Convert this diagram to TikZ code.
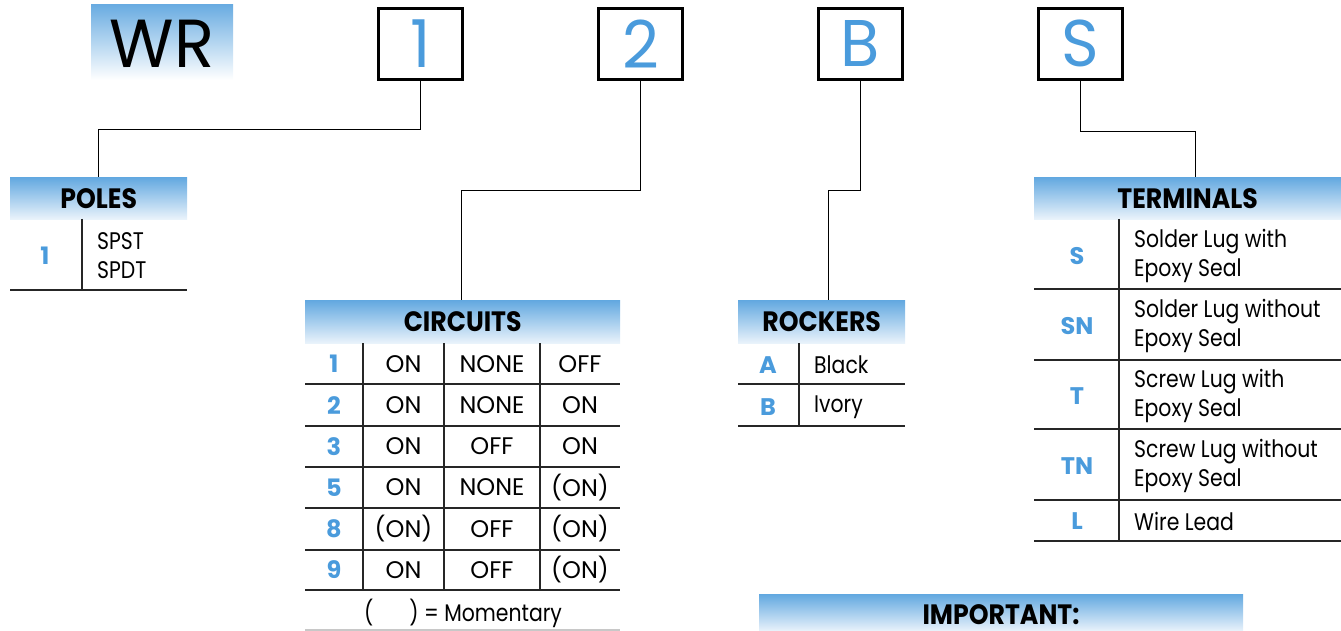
\documentclass[tikz,border=0pt]{standalone}
\usepackage{fontspec}
\setmainfont{Poppins}[FakeStretch=0.85]
\newfontfamily\capfont{Poppins}[FakeStretch=1.0]
\newfontfamily\hdrfont{Poppins}[FakeStretch=0.9]
\newfontfamily\bigfont{Poppins}[FakeStretch=0.97]
\definecolor{hblue}{RGB}{98,168,224}
\definecolor{hlight}{RGB}{234,243,251}
\definecolor{codeblue}{RGB}{74,155,220}
\definecolor{lgray}{RGB}{200,200,200}
\tikzset{
  hdr/.style={anchor=north west, top color=hblue, bottom color=hlight, draw=none, inner sep=0pt,
     font=\hdrfont\fontsize{28}{30}\selectfont\bfseries},
  hdrtext/.style={inner sep=0pt, font=\hdrfont\fontsize{28}{30}\selectfont\bfseries},
  letbox/.style={draw=black, line width=2.8pt, fill=white, minimum width=84pt, minimum height=71pt,
     anchor=north west, inner sep=0pt, text=codeblue, font=\bigfont\fontsize{66}{66}\selectfont},
  code/.style={text=codeblue, font=\capfont\fontsize{24}{26}\selectfont\bfseries, inner sep=0pt},
  txt/.style={font=\fontsize{24}{29}\selectfont, inner sep=0pt},
  ctxt/.style={font=\capfont\fontsize{24}{29}\selectfont, inner sep=0pt},
  rule/.style={line width=1.2pt, draw=black!85},
  conn/.style={line width=1.1pt, draw=black}
}
\begin{document}
\begin{tikzpicture}[x=1pt,y=-1pt]
\useasboundingbox (0,0) rectangle (1341,631);
% WR
\shade[top color=hblue!95, bottom color=white] (91,5) rectangle (233,80);
\node[font=\bigfont\fontsize{68}{68}\selectfont, inner sep=0pt] (wr) at (162,44) {WR};
% letter boxes
\node[letbox] (b1) at (377,7) {1};
\node[letbox] (b2) at (597,7) {2};
\node[letbox] (bB) at (817,7) {B};
\node[letbox] (bS) at (1037,7) {S};
% headers
\node[hdr, minimum width=177pt, minimum height=42pt] (poles) at (10,177) {POLES};
\node[hdr, minimum width=315pt, minimum height=43pt] (circ) at (305,300) {CIRCUITS};
\node[hdr, minimum width=167pt, minimum height=43pt] (rock) at (738,300) {ROCKERS};
\node[hdr, minimum width=307pt, minimum height=42pt] (term) at (1034,177) {TERMINALS};
\node[hdr, minimum width=484pt, minimum height=37pt] (imp) at (759,594) {};
\node[hdrtext] (impt) at (1001,615) {IMPORTANT:};
% connectors
\draw[conn] (b1.south) -- ++(0,49) -| (poles.north);
\draw[conn] (b2.south) -- ++(0,110) -| ([xshift=-1.5pt]circ.north);
\draw[conn] (bB.south) -- ++(0,110) -| ([xshift=6.5pt]rock.north);
\draw[conn] (bS.south) -- ++(0,51) -| ([xshift=7.5pt]term.north);
% POLES table
\draw[rule] (82,219) -- (82,290);
\draw[rule] (10,290) -- (187,290);
\node[code] (p1) at (45,256) {1};
\node[txt, anchor=west, align=left] (p1t) at (97,256) {SPST\\SPDT};
% CIRCUITS table
\foreach \x in {363,444,540} \draw[rule] (\x,343) -- (\x,590);
\foreach \y in {384,426,467,508,550,590} \draw[rule] (305,\y) -- (620,\y);
\draw[line width=1.2pt, draw=lgray] (305,630) -- (620,630);
\foreach \n/\a/\b/\c [count=\i] in {1/ON/NONE/OFF, 2/ON/NONE/ON, 3/ON/OFF/ON, 5/ON/NONE/(ON), 8/(ON)/OFF/(ON), 9/ON/OFF/(ON)}{
  \pgfmathsetmacro{\yy}{343+41.2*\i-20.2}
  \node[code] (cc\i) at (334,\yy) {\n};
  \node[ctxt] (ca\i) at (403.5,\yy) {\a};
  \node[ctxt] (cb\i) at (492,\yy) {\b};
  \node[ctxt] (cd\i) at (580,\yy) {\c};
}
\node[txt] (mom) at (463,613) {(\hspace{36pt}) = Momentary};
% ROCKERS table
\draw[rule] (799,343) -- (799,426);
\foreach \y in {384,426} \draw[rule] (738,\y) -- (905,\y);
\node[code] (ra) at (768,365) {A};
\node[txt, anchor=west] (rat) at (814,365) {Black};
\node[code] (rb) at (768,407) {B};
\node[txt, anchor=west] (rbt) at (814,407) {Ivory};
% TERMINALS table
\draw[rule] (1119,219) -- (1119,541);
\foreach \y in {289,360,429,500,541} \draw[rule] (1034,\y) -- (1341,\y);
\node[code] (ts) at (1077,256) {S};
\node[txt, anchor=west, align=left] (tst) at (1134,256) {Solder Lug with\\Epoxy Seal};
\node[code] (tsn) at (1077,326) {SN};
\node[txt, anchor=west, align=left] (tsnt) at (1134,326) {Solder Lug without\\Epoxy Seal};
\node[code] (tt) at (1077,396) {T};
\node[txt, anchor=west, align=left] (ttt) at (1134,396) {Screw Lug with\\Epoxy Seal};
\node[code] (ttn) at (1077,466) {TN};
\node[txt, anchor=west, align=left] (ttnt) at (1134,466) {Screw Lug without\\Epoxy Seal};
\node[code] (tl) at (1077,521) {L};
\node[txt, anchor=west] (tlt) at (1134,521) {Wire Lead};
\end{tikzpicture}
\end{document}
